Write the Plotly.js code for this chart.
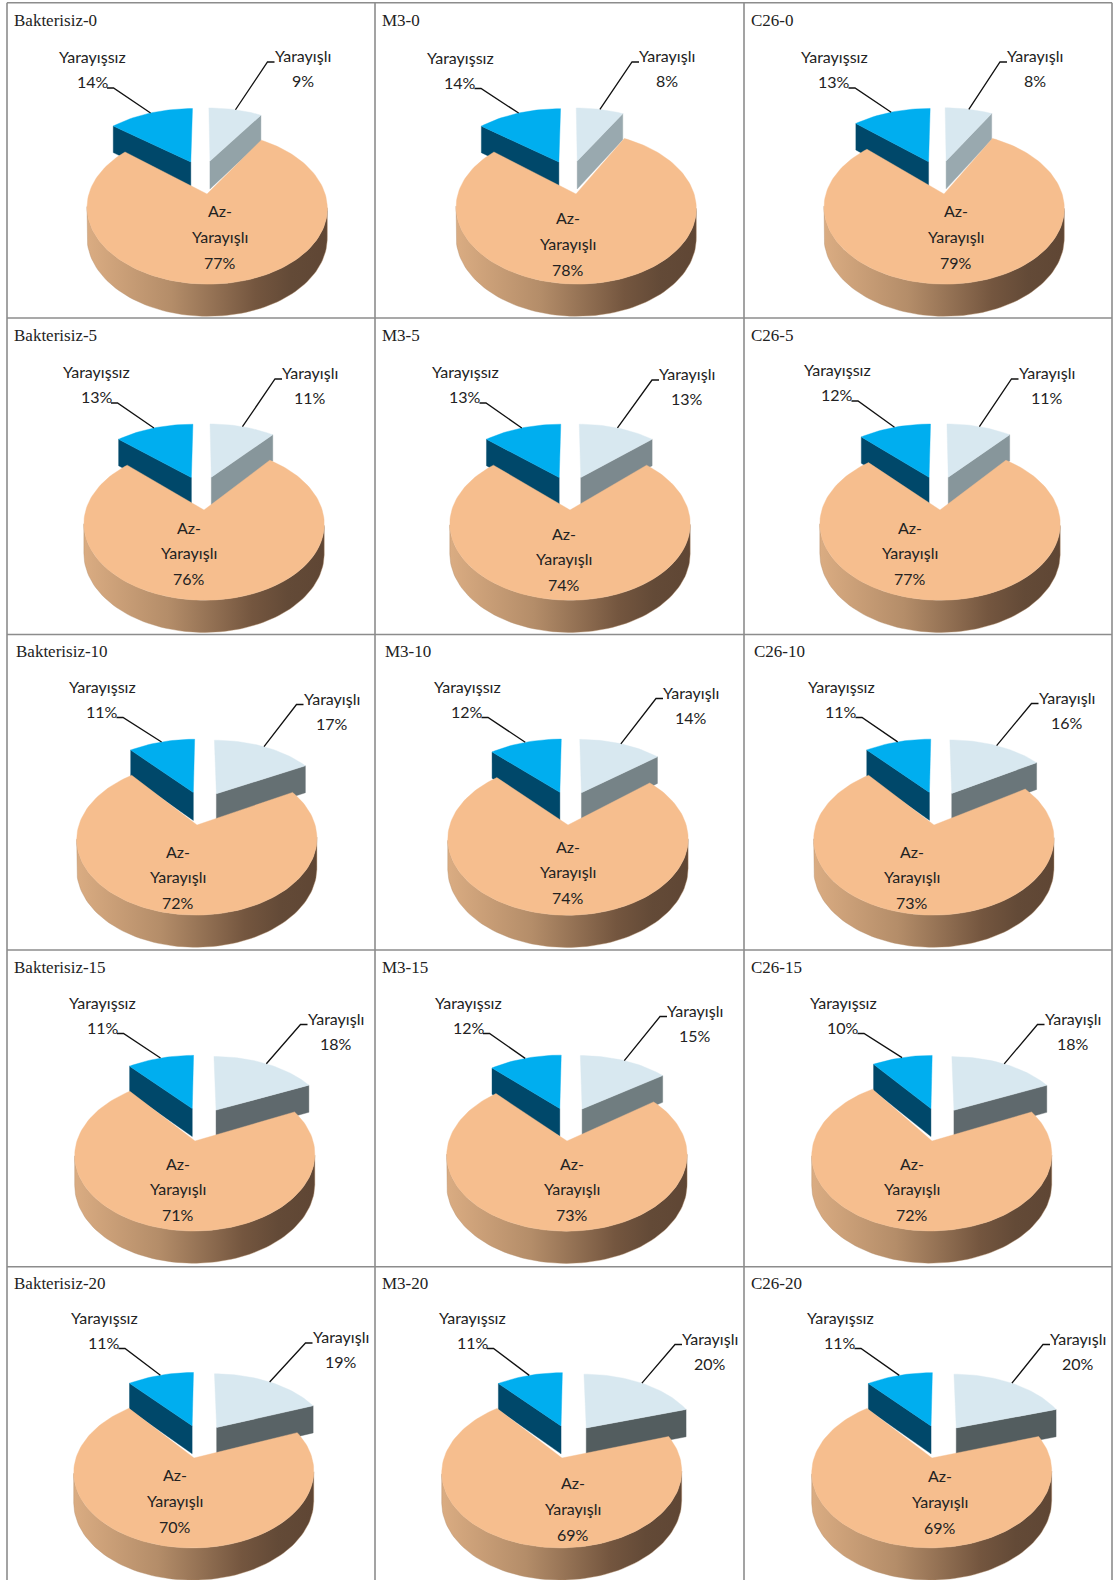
<!DOCTYPE html>
<html>
<head>
<meta charset="utf-8">
<script src="https://cdn.plot.ly/plotly-3.0.1.min.js"></script>
<style>html,body{margin:0;padding:0;background:#fff}#chart{width:1115px;height:1580px}</style>
</head>
<body>
<div id="chart"></div>
<script>
// Share of each quality class, per treatment (rows) and day (columns of each list)
const treatments = ["Bakterisiz", "M3", "C26"];
const days = [0, 5, 10, 15, 20];
const sliceNames = ["Yarayışlı", "Az-Yarayışlı", "Yarayışsız"];
const yarayisli = [
  [9, 11, 17, 18, 19],
  [8, 13, 14, 15, 20],
  [8, 11, 16, 18, 20]
];
const azYarayisli = [
  [77, 76, 72, 71, 70],
  [78, 74, 74, 73, 69],
  [79, 77, 73, 72, 69]
];
const yarayissiz = [
  [14, 13, 11, 11, 11],
  [14, 13, 12, 12, 11],
  [13, 12, 11, 10, 11]
];

// Panel placement, indexed [treatment][day]; page pixels
const apexX = [
  [207, 204, 197, 195, 194],
  [576, 570, 568, 567, 562],
  [944, 940, 934, 932, 932]
];
const apexY = [
  [194, 510, 825, 1141, 1458],
  [194, 510, 825, 1141, 1458],
  [194, 510, 825, 1141, 1458]
];
const titleLeft = [
  [13, 13, 15, 12.5, 12.5],
  [380.5, 380.5, 383.5, 380.5, 380.5],
  [749.5, 749.5, 752.5, 749.5, 749.5]
];
const titleY = [20, 335.5, 651.5, 967, 1283];
const poorX = [
  [92.5, 96.5, 102, 102.5, 104],
  [460, 465, 467, 468.5, 472.5],
  [834, 837, 841, 843, 840]
];
const poorY = [
  [57.5, 372.5, 687, 1003, 1318],
  [58, 372.5, 687, 1003, 1318],
  [57.5, 370.5, 687, 1003, 1318]
];
const goodX = [
  [302.5, 310, 331.5, 335.5, 340.5],
  [667, 687, 691, 695, 710],
  [1035, 1046.5, 1066.5, 1072.5, 1078]
];
const goodY = [
  [56.5, 373.5, 699, 1019, 1337.5],
  [56.5, 374.5, 693, 1011, 1339],
  [56.5, 373.5, 698, 1019, 1339]
];
const midX = [
  [219.5, 188.5, 177.5, 177.5, 174.5],
  [568, 564, 568, 572, 573],
  [956, 909.5, 911.5, 911.5, 940]
];
const midY = [
  [211.5, 528, 852, 1164, 1475.5],
  [218.5, 534, 847, 1164, 1483.5],
  [211.5, 528, 852, 1164, 1476.5]
];
const rowLines = [2.7, 318, 634.5, 950, 1266.7];
const colLines = [7, 375, 744, 1112];

// Perspective pie geometry: world disc of radius 1, each wedge pushed out along its bisector
const GAIN_X = 113, GAIN_Y = 67.4, PERSPECTIVE = 0.175, EXPLODE = 0.25, DEPTH = 28.5, ARC_STEP = 2;
const WIDEN_LIGHT = 1.02, WIDEN_BLUE = 1.04;
const TEXT_NUDGE = -0.8;
const COLORS = {
  light: "#D8E8F0", blue: "#00AEEF", blueSide: "#00486A", orange: "#F6BE8E", ink: "#222222",
  grid: "#8C8C8C", rim: [[0, "#DAAC82"], [0.35, "#B48D69"], [0.7, "#74563F"], [0.85, "#634A37"], [1, "#5F4634"]]
};
const LABEL_FONT = "Lato,'Open Sans',sans-serif";
const TITLE_FONT = "'Liberation Serif',serif";

const rad = d => d * Math.PI / 180;

function wedge(fromDeg, toDeg, cx, cy, widen) {
  const mid = rad((fromDeg + toDeg) / 2);
  const ax = EXPLODE * Math.sin(mid), az = EXPLODE * Math.cos(mid);
  const pt = (X, Z) => {
    const s = 1 / (1 + PERSPECTIVE * Z);
    return [cx + GAIN_X * X * s, cy - GAIN_Y * Z * s, 1 / Math.sqrt(1 + PERSPECTIVE * Z)];
  };
  const at = deg => pt(ax + (widen || 1) * Math.sin(rad(deg)), az + Math.cos(rad(deg)));
  const arc = [];
  for (let d = fromDeg; d < toDeg; d += ARC_STEP) arc.push(at(d));
  arc.push(at(toDeg));
  return { apex: pt(ax, az), arc, at, midDeg: (fromDeg + toDeg) / 2 };
}

// Downward offset of a top-surface point; nearer points get a taller wall
const drop = p => [p[0], p[1] + DEPTH * p[2]];

function poly(points, extra) {
  return Object.assign({
    x: points.map(p => p[0]), y: points.map(p => p[1]),
    type: "scatter", mode: "lines", fill: "toself", hoverinfo: "skip", showlegend: false,
    line: { width: 0.4, color: extra.fillcolor || "#B48D69" }
  }, extra);
}

// Flat cut face between the apex and a rim corner
function cutFace(apex, corner, color) {
  return poly([apex, corner, drop(corner), drop(apex), apex], { fillcolor: color });
}

// Cut face of the light wedge darkens as the wedge swings round to the right
function lightSideColor(share) {
  const t = share - 9;
  return `rgb(${Math.round(147 - 5.8 * t)},${Math.round(163 - 6.4 * t)},${Math.round(168 - 6.6 * t)})`;
}

const traces = [];
const annotations = [];
const note = (text, x, y, size, family, anchor) => annotations.push({
  text, x, y: y + (family ? 0 : TEXT_NUDGE), xref: "x", yref: "y", showarrow: false,
  xanchor: anchor || "center", yanchor: "middle",
  font: { family: family || LABEL_FONT, size: size || 16, color: COLORS.ink }, borderpad: 0
});

treatments.forEach((name, t) => {
  days.forEach((day, d) => {
    const good = yarayisli[t][d], mid = azYarayisli[t][d], poor = yarayissiz[t][d];
    const goodEnd = good * 3.6, midEnd = 360 - poor * 3.6;

    // Anchor the panel on the apex of the large wedge
    const probe = wedge(goodEnd, midEnd, 0, 0);
    const cx = apexX[t][d] - probe.apex[0], cy = apexY[t][d] - probe.apex[1];

    const lightW = wedge(0, goodEnd, cx, cy, WIDEN_LIGHT);
    const orangeW = wedge(goodEnd, midEnd, cx, cy);
    const blueW = wedge(midEnd, 360, cx, cy, WIDEN_BLUE);

    traces.push(cutFace(lightW.apex, lightW.arc[lightW.arc.length - 1], lightSideColor(good)));
    traces.push(cutFace(blueW.apex, blueW.arc[0], COLORS.blueSide));
    traces.push(poly([lightW.apex, ...lightW.arc, lightW.apex], { fillcolor: COLORS.light }));
    traces.push(poly([blueW.apex, ...blueW.arc, blueW.apex], { fillcolor: COLORS.blue }));

    // Outer wall of the large wedge, between its left and right silhouette points
    const xs = orangeW.arc.map(p => p[0]);
    const iR = xs.indexOf(Math.max(...xs)), iL = xs.indexOf(Math.min(...xs));
    const front = orangeW.arc.slice(iR, iL + 1);
    const wall = [...front, ...front.slice().reverse().map(drop)];
    traces.push(poly([...wall, wall[0]], {
      fillcolor: "#B48D69",
      fillgradient: { type: "horizontal", colorscale: COLORS.rim }
    }));
    traces.push(poly([orangeW.apex, ...orangeW.arc, orangeW.apex], { fillcolor: COLORS.orange }));

    // Leader lines
    const blueTip = blueW.at(blueW.midDeg), lightTip = lightW.at(lightW.midDeg);
    const py = poorY[t][d] + 25 + 5.5, px = poorX[t][d] + 14.5;
    const gy = goodY[t][d] + 5.5, gx = goodX[t][d] - 28;
    [[[px, py], [px + 6.5, py], blueTip], [[gx, gy], [gx - 7, gy], lightTip]].forEach(seg => {
      traces.push({
        x: seg.map(p => p[0]), y: seg.map(p => p[1]), type: "scatter", mode: "lines",
        line: { color: "#111111", width: 1.3 }, hoverinfo: "skip", showlegend: false
      });
    });

    // Text
    note(`${name}-${day}`, titleLeft[t][d], titleY[d], 17, TITLE_FONT, "left");
    note(sliceNames[2], poorX[t][d], poorY[t][d]);
    note(`${poor}%`, poorX[t][d], poorY[t][d] + 25);
    note(sliceNames[0], goodX[t][d], goodY[t][d]);
    note(`${good}%`, goodX[t][d], goodY[t][d] + 25);
    note("Az-", midX[t][d], midY[t][d]);
    note(sliceNames[0], midX[t][d], midY[t][d] + 25.5);
    note(`${mid}%`, midX[t][d], midY[t][d] + 51.5);
  });
});

const border = { type: "line", xref: "x", yref: "y", line: { color: COLORS.grid, width: 1.6 }, layer: "below" };
const shapes = [
  ...rowLines.map(y => Object.assign({}, border, { x0: colLines[0], x1: colLines[3], y0: y, y1: y })),
  ...colLines.map(x => Object.assign({}, border, { x0: x, x1: x, y0: rowLines[0], y1: 1580 }))
];

const hiddenAxis = { visible: false, showgrid: false, zeroline: false, fixedrange: true };
Plotly.newPlot("chart", traces, {
  width: 1115, height: 1580, margin: { l: 0, r: 0, t: 0, b: 0 },
  paper_bgcolor: "#ffffff", plot_bgcolor: "#ffffff", showlegend: false,
  xaxis: Object.assign({ range: [0, 1115] }, hiddenAxis),
  yaxis: Object.assign({ range: [1580, 0] }, hiddenAxis),
  shapes, annotations
}, { displayModeBar: false, staticPlot: true });
</script>
</body>
</html>
